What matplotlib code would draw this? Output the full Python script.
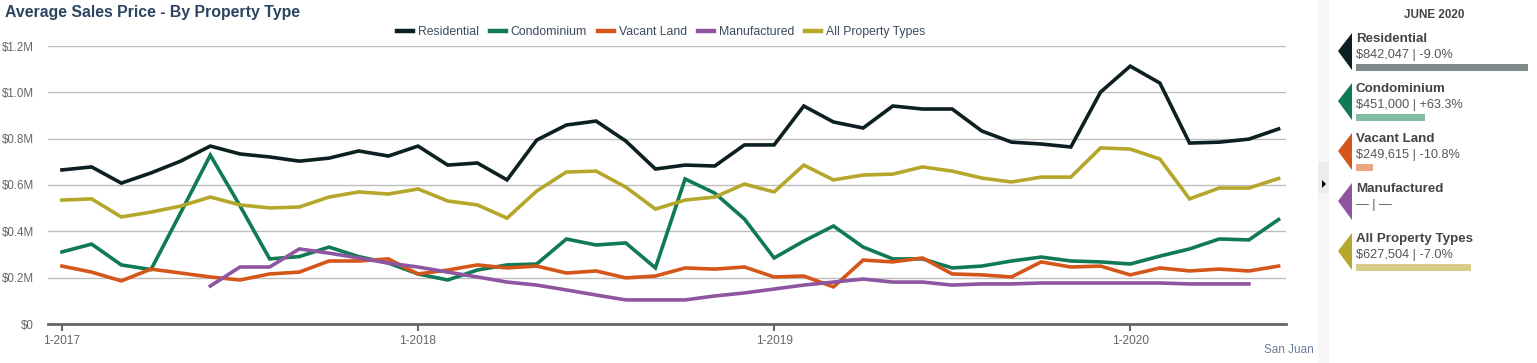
import matplotlib
matplotlib.use("Agg")
import matplotlib.pyplot as plt
from matplotlib.patches import Polygon, Rectangle
import numpy as np

plt.rcParams["font.family"] = ["Liberation Sans", "DejaVu Sans"]

# monthly data, Jan 2017 .. Jun 2020 (values in $M)
months = np.arange(42)
tick_pos = [0, 12, 24, 36]
tick_labels = ["1-2017", "1-2018", "1-2019", "1-2020"]

residential = [0.665, 0.678, 0.608, 0.652, 0.703, 0.768, 0.734, 0.721, 0.703, 0.716,
               0.747, 0.725, 0.768, 0.686, 0.695, 0.622, 0.794, 0.859, 0.876, 0.790,
               0.669, 0.686, 0.682, 0.773, 0.773, 0.941, 0.872, 0.846, 0.941, 0.928,
               0.928, 0.833, 0.785, 0.777, 0.764, 1.001, 1.113, 1.040, 0.781, 0.785,
               0.798, 0.842]
condominium = [0.311, 0.345, 0.255, 0.235, 0.480, 0.729, 0.510, 0.281, 0.291, 0.332,
               0.291, 0.263, 0.216, 0.190, 0.233, 0.255, 0.259, 0.367, 0.341, 0.350,
               0.242, 0.626, 0.565, 0.453, 0.285, 0.358, 0.423, 0.332, 0.281, 0.281,
               0.242, 0.250, 0.272, 0.289, 0.272, 0.268, 0.259, 0.293, 0.324, 0.367,
               0.363, 0.451]
vacant_land = [0.250, 0.224, 0.186, 0.237, 0.220, 0.203, 0.190, 0.216, 0.224, 0.272,
               0.272, 0.281, 0.216, 0.233, 0.255, 0.242, 0.250, 0.220, 0.229, 0.199,
               0.207, 0.242, 0.237, 0.246, 0.203, 0.207, 0.160, 0.276, 0.268, 0.285,
               0.216, 0.212, 0.203, 0.268, 0.246, 0.250, 0.212, 0.242, 0.229, 0.237,
               0.229, 0.250]
manufactured = [None, None, None, None, None, 0.164, 0.246, 0.246, 0.324, 0.306,
                0.285, 0.263, 0.246, 0.224, 0.203, 0.181, 0.168, 0.147, 0.125, 0.104,
                0.104, 0.104, 0.121, 0.134, 0.151, 0.168, 0.181, 0.194, 0.181, 0.181,
                0.168, 0.173, 0.173, 0.177, 0.177, 0.177, 0.177, 0.177, 0.173, 0.173,
                0.173, None]
all_types = [0.535, 0.540, 0.462, 0.483, 0.509, 0.548, 0.514, 0.501, 0.505, 0.548,
             0.570, 0.561, 0.583, 0.531, 0.514, 0.457, 0.574, 0.656, 0.660, 0.591,
             0.496, 0.535, 0.548, 0.604, 0.570, 0.686, 0.622, 0.643, 0.647, 0.678,
             0.660, 0.630, 0.613, 0.634, 0.634, 0.760, 0.755, 0.712, 0.540, 0.587,
             0.587, 0.628]

names = ["Residential", "Condominium", "Vacant Land", "Manufactured", "All Property Types"]
series = [residential, condominium, vacant_land, manufactured, all_types]
colors = ["#0c1f21", "#107a52", "#d5561a", "#8e55a0", "#b5a72b"]
bar_colors = ["#808a8a", "#82bfa2", "#eaa684", None, "#d8cd86"]

# side panel (June 2020)
panel_values = ["$842,047 | -9.0%", "$451,000 | +63.3%", "$249,615 | -10.8%",
                "\u2014 | \u2014", "$627,504 | -7.0%"]
bar_share = [1.0, 0.40, 0.10, None, 0.67]

yticks = [0, 0.2, 0.4, 0.6, 0.8, 1.0, 1.2]
ytick_labels = ["$0", "$0.2M", "$0.4M", "$0.6M", "$0.8M", "$1.0M", "$1.2M"]

W, H = 1537, 363
fig = plt.figure(figsize=(W / 100, H / 100), dpi=100)
ax = fig.add_axes([48 / W, 1 - 324 / H, 1238 / W, 278 / H])

for name, vals, c in zip(names, series, colors):
    y = np.array([np.nan if v is None else v for v in vals], dtype=float)
    ax.plot(months, y, color=c, lw=2.6, label=name, solid_joinstyle="miter")

ax.set_ylim(0, 1.2)
ax.set_xlim(-0.47, 41.25)
ax.set_yticks(yticks)
ax.set_yticklabels(ytick_labels)
ax.set_xticks(tick_pos)
ax.set_xticklabels(tick_labels)
ax.grid(axis="y", color="#bdbdbd", lw=1)
ax.set_axisbelow(True)
for s in ["top", "right", "left"]:
    ax.spines[s].set_visible(False)
ax.spines["bottom"].set_color("#666666")
ax.spines["bottom"].set_linewidth(2)
ax.tick_params(axis="y", length=0, pad=10, labelsize=8.3, labelcolor="#666666")
ax.tick_params(axis="x", length=5, width=1.5, color="#666666", pad=3,
               labelsize=8.6, labelcolor="#666666")

fig.text(5 / W, 1 - 13 / H, "Average Sales Price - By Property Type", fontsize=11.4,
         fontweight="bold", color="#2b4560", va="center", ha="left")

leg = fig.legend(loc="center", bbox_to_anchor=(661 / W, 1 - 32 / H), ncol=5,
                 frameon=False, fontsize=8.8, handlelength=1.3, handletextpad=0.4,
                 columnspacing=0.9, borderaxespad=0)
for t in leg.get_texts():
    t.set_color("#3b4b5e")
for h in leg.get_lines():
    h.set_linewidth(3.2)

fig.text(1314 / W, 1 - 350 / H, "San Juan", fontsize=8.5, color="#6a7f99",
         ha="right", va="center")

# side panel in pixel coordinates
side = fig.add_axes([0, 0, 1, 1])
side.set_xlim(0, W)
side.set_ylim(H, 0)
side.axis("off")
side.patch.set_alpha(0)
side.add_patch(Rectangle((1318, 0), 11, H, color="#f6f6f6", lw=0))
side.add_patch(Rectangle((1318, 162), 11, 31, color="#ececec", lw=0))
side.add_patch(Polygon([(1322, 180), (1326, 184), (1322, 188)], color="black", lw=0))

side.text(1434, 15, "JUNE 2020", fontsize=8.4, fontweight="bold", color="#444444",
          ha="center", va="center")
bar_full = 172
for i, (name, val, c) in enumerate(zip(names, panel_values, colors)):
    y0 = 39 + 50 * i
    side.add_patch(Polygon([(1338, y0 + 12), (1352, y0 - 6), (1352, y0 + 31)],
                           color=c, lw=0))
    side.text(1356, y0, name, fontsize=9.6, fontweight="bold", color="#444444",
              ha="left", va="center")
    side.text(1356, y0 + 16, val, fontsize=9.2, color="#555555", ha="left", va="center")
    if bar_share[i] is not None:
        side.add_patch(Rectangle((1356, y0 + 25), bar_full * bar_share[i], 7,
                                 color=bar_colors[i], lw=0))

fig.savefig("out.png", dpi=100)
